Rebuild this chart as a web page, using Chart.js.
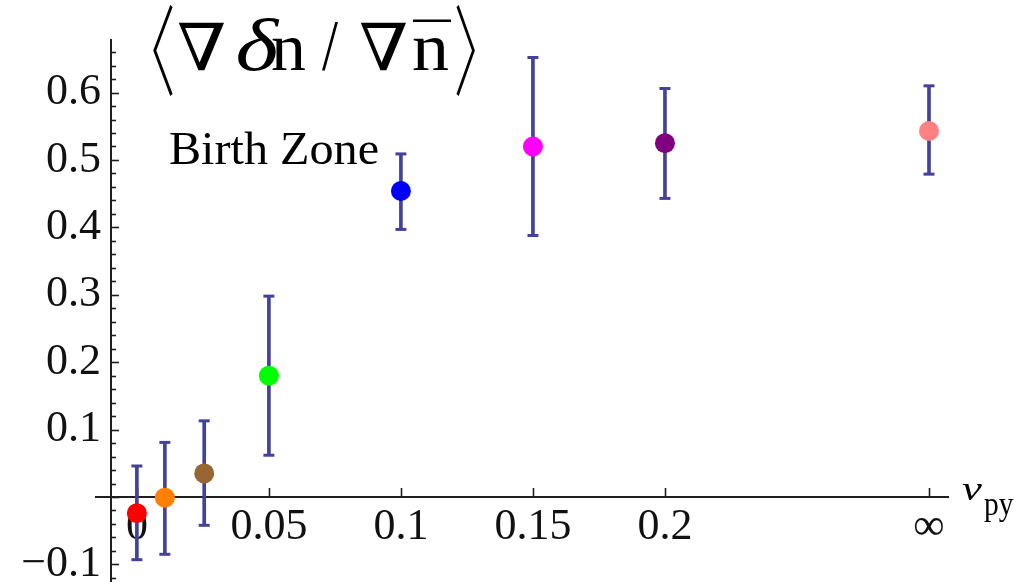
<!DOCTYPE html>
<html>
<head>
<meta charset="utf-8">
<script src="https://cdn.jsdelivr.net/npm/chart.js@4/dist/chart.umd.min.js"></script>
<style>
html, body { margin: 0; padding: 0; background: #ffffff; overflow: hidden; }
canvas { display: block; }
</style>
</head>
<body>
<canvas id="c" width="1022" height="582"></canvas>
<script>
// ---- data ----
const xVals   = [0, 0.0106, 0.0255, 0.05, 0.1, 0.15, 0.2, 0.3];
const yVals   = [-0.024, -0.001, 0.035, 0.18, 0.454, 0.52, 0.525, 0.543];
const errLow  = [-0.093, -0.085, -0.042, 0.062, 0.397, 0.388, 0.443, 0.479];
const errHigh = [0.046, 0.081, 0.113, 0.298, 0.509, 0.652, 0.606, 0.610];
const pointColors = ['#ff0000', '#ff8000', '#996633', '#00ff00', '#0000ff', '#ff00ff', '#800080', '#ff8080'];

const xTickValues = [0, 0.05, 0.1, 0.15, 0.2, 0.3];
const xTickLabels = ['0', '0.05', '0.1', '0.15', '0.2', '\u221E'];
const yTickValues = [-0.1, 0.1, 0.2, 0.3, 0.4, 0.5, 0.6];
const yTickLabels = ['\u22120.1', '0.1', '0.2', '0.3', '0.4', '0.5', '0.6'];
const yMinorStep = 0.02;

const annotationText = 'Birth Zone';
const axisLabelMain = '\u03BD';
const axisLabelSub = 'py';

// ---- styles ----
const errColor = 'rgb(66,66,156)';
const axisColor = '#1e1e1e';
const tickFont = { family: "'Liberation Serif', 'Times New Roman', serif", size: 44 };

function findIdx(arr, v) {
  return arr.findIndex(a => Math.abs(a - v) < 1e-6);
}

function fitText(ctx, text, font, x0, y0, x1, y1) {
  ctx.save();
  ctx.font = font;
  ctx.textAlign = 'left';
  ctx.textBaseline = 'alphabetic';
  const m = ctx.measureText(text);
  const w = m.actualBoundingBoxLeft + m.actualBoundingBoxRight;
  const h = m.actualBoundingBoxAscent + m.actualBoundingBoxDescent;
  ctx.translate(x0, y0);
  ctx.scale((x1 - x0) / w, (y1 - y0) / h);
  ctx.fillText(text, m.actualBoundingBoxLeft, m.actualBoundingBoxAscent);
  ctx.restore();
}

const axisDecor = {
  id: 'axisDecor',
  beforeDatasetsDraw(chart) {
    const ctx = chart.ctx;
    const xs = chart.scales.x, ys = chart.scales.y;
    const left = chart.chartArea.left;
    const y0 = ys.getPixelForValue(0);
    ctx.save();
    ctx.strokeStyle = axisColor;
    ctx.lineWidth = 2;
    // x axis continues a little to the left of the y axis
    ctx.beginPath();
    ctx.moveTo(left - 16, y0);
    ctx.lineTo(left, y0);
    ctx.stroke();
    ctx.lineWidth = 1.6;
    // x ticks (upward)
    xs.ticks.forEach(t => {
      const px = Math.round(xs.getPixelForValue(t.value)) + 0.5;
      ctx.beginPath();
      ctx.moveTo(px, y0);
      ctx.lineTo(px, y0 - 9);
      ctx.stroke();
    });
    // y ticks (to the right), major every 0.1
    ys.ticks.forEach(t => {
      const py = Math.round(ys.getPixelForValue(t.value)) + 0.5;
      const q = t.value / 0.1;
      const major = Math.abs(q - Math.round(q)) < 1e-6;
      ctx.beginPath();
      ctx.moveTo(left, py);
      ctx.lineTo(left + (major ? 8 : 5), py);
      ctx.stroke();
    });
    ctx.restore();
  },
  afterDraw(chart) {
    const ctx = chart.ctx;
    ctx.save();
    ctx.fillStyle = '#000';
    const serif = "'Liberation Serif', 'DejaVu Serif', serif";
    const thin = "200 90px 'Noto Sans CJK SC', 'DejaVu Sans', serif";
    // title  < grad delta n / grad n-bar >
    fitText(ctx, '\u3008', thin, 153, 5, 173, 97);
    fitText(ctx, '\u2207', "72px " + serif, 178, 22, 225, 70);
    fitText(ctx, '\u03B4', "italic 72px " + serif, 238, 18, 280, 71.5);
    fitText(ctx, 'n', "72px " + serif, 272, 38.5, 305, 70);
    fitText(ctx, '/', "72px " + serif, 322, 22, 338, 71);
    fitText(ctx, '\u2207', "72px " + serif, 360, 22, 407, 70);
    fitText(ctx, 'n', "72px " + serif, 413, 38.5, 448, 70);
    ctx.fillRect(413, 19.5, 38, 2.5);
    fitText(ctx, '\u3009', thin, 456, 5, 475, 97);
    // Birth Zone
    fitText(ctx, annotationText, "45px " + serif, 170, 131.5, 378, 163.5);
    // axis label nu_py
    fitText(ctx, axisLabelMain, "italic 34px " + serif, 962, 484, 983, 499.5);
    fitText(ctx, axisLabelSub, "31px " + serif, 984, 499, 1014, 523);
    ctx.restore();
  }
};

const pointData = xVals.map((x, i) => ({ x: x, y: yVals[i] }));
const barData = xVals.map((x, i) => ({ x: x, y: [errLow[i], errHigh[i]] }));
const capData = [];
xVals.forEach((x, i) => {
  capData.push({ x: x, y: errLow[i] });
  capData.push({ x: x, y: errHigh[i] });
});

new Chart(document.getElementById('c'), {
  type: 'scatter',
  data: {
    datasets: [
      {
        type: 'scatter',
        data: pointData,
        pointRadius: 10,
        pointHoverRadius: 10,
        pointBackgroundColor: pointColors,
        pointBorderWidth: 0,
        order: 0
      },
      {
        type: 'scatter',
        data: capData,
        pointStyle: 'line',
        pointRadius: 5.5,
        pointHoverRadius: 5.5,
        pointBorderColor: errColor,
        pointBorderWidth: 3,
        order: 1
      },
      {
        type: 'bar',
        data: barData,
        backgroundColor: errColor,
        borderWidth: 0,
        barThickness: 3,
        order: 2
      }
    ]
  },
  options: {
    responsive: false,
    animation: false,
    events: [],
    layout: { autoPadding: false, padding: { left: 0, top: 40, right: 74, bottom: 0 } },
    plugins: { legend: { display: false }, tooltip: { enabled: false }, title: { display: false } },
    scales: {
      x: {
        type: 'linear',
        position: { y: 0 },
        min: -0.0098,
        max: 0.3072,
        offset: false,
        grid: { display: false, drawTicks: false, offset: false },
        border: { display: true, color: axisColor, width: 2 },
        afterBuildTicks: s => { s.ticks = xTickValues.map(v => ({ value: v })); },
        afterFit: s => { s.paddingLeft = 0; s.paddingRight = 0; },
        ticks: {
          autoSkip: false,
          maxRotation: 0,
          minRotation: 0,
          padding: 4,
          color: '#111',
          font: tickFont,
          callback: v => { const i = findIdx(xTickValues, v); return i >= 0 ? xTickLabels[i] : ''; }
        }
      },
      y: {
        type: 'linear',
        position: 'left',
        min: -0.1261,
        max: 0.678,
        grid: { display: false, drawTicks: false },
        border: { display: true, color: axisColor, width: 2 },
        afterBuildTicks: s => {
          const t = [];
          for (let k = Math.ceil(s.min / yMinorStep - 1e-9); k * yMinorStep <= s.max + 1e-9; k++) {
            t.push({ value: +(k * yMinorStep).toFixed(4) });
          }
          s.ticks = t;
        },
        afterFit: s => { s.width = 111; s.paddingTop = 0; s.paddingBottom = 0; },
        ticks: {
          autoSkip: false,
          padding: 10,
          color: '#111',
          font: tickFont,
          callback: v => { const i = findIdx(yTickValues, v); return i >= 0 ? yTickLabels[i] : ''; }
        }
      }
    }
  },
  plugins: [axisDecor]
});
</script>
</body>
</html>
